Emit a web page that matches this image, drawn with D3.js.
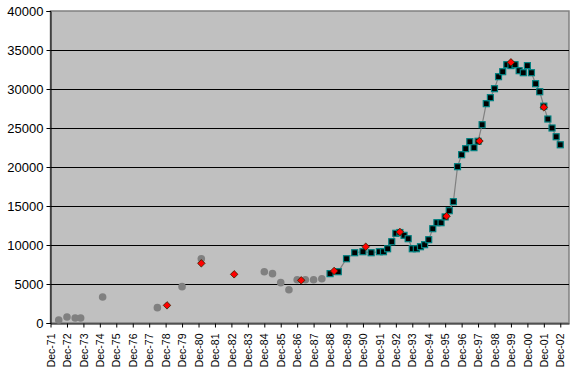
<!DOCTYPE html>
<html>
<head>
<meta charset="utf-8">
<script src="https://cdn.jsdelivr.net/npm/d3@7"></script>
<style>
  body { margin: 0; background: #fff; }
  text { font-family: "Liberation Sans", Arial, sans-serif; fill: #000; }
</style>
</head>
<body>
<div class="canvas"></div>
<script>
// early scattered readings (grey circles, no line)
const greyDates = ['1972-06', '1972-12', '1973-06', '1973-10', '1975-02', '1978-06', '1979-12', '1981-02',
  '1984-12', '1985-06', '1985-12', '1986-06', '1986-12', '1987-06', '1987-12', '1988-06']
const greyValues = [390, 770, 640, 640, 3330, 1970, 4660, 8240,
  6580, 6330, 5170, 4270, 5550, 5550, 5550, 5680]

// main series (black squares joined by a grey line)
const lineDates = ['1988-12', '1989-06', '1989-12', '1990-06', '1990-12', '1991-06', '1991-12',
  '1992-03', '1992-06', '1992-09', '1992-12', '1993-03', '1993-06', '1993-09', '1993-12',
  '1994-03', '1994-06', '1994-09', '1994-12', '1995-03', '1995-06', '1995-09', '1995-12',
  '1996-03', '1996-06', '1996-09', '1996-12', '1997-03', '1997-06', '1997-09', '1997-12',
  '1998-03', '1998-06', '1998-09', '1998-12', '1999-03', '1999-06', '1999-09', '1999-12',
  '2000-03', '2000-06', '2000-09', '2000-12', '2001-03', '2001-06', '2001-09', '2001-12',
  '2002-03', '2002-06', '2002-09', '2002-12']
const lineValues = [6330, 6580, 8240, 9010, 9140, 9010, 9140,
  9140, 9520, 10420, 11500, 11600, 11240, 10810, 9520,
  9520, 9780, 10040, 10680, 12090, 12860, 12860, 13600,
  14400, 15550, 20040, 21580, 22350, 23250, 22480, 23300,
  25420, 28120, 28890, 30040, 31580, 32220, 33120, 33000,
  33120, 32350, 32090, 33000, 32090, 30680, 29650, 27800,
  26150, 25000, 23880, 22850]

// red diamonds
const redDates = ['1979-01', '1981-02', '1983-02', '1987-03', '1989-03', '1991-02',
  '1993-03', '1996-01', '1998-01', '1999-12', '2001-12']
const redValues = [2260, 7650, 6240, 5470, 6670, 9780,
  11670, 13700, 23330, 33420, 27650]

const yTicks = [0, 5000, 10000, 15000, 20000, 25000, 30000, 35000, 40000]
const xTickYears = d3.range(1971, 2003)

const parse = d3.timeParse('%Y-%m')
const zip = (dates, values) => dates.map((d, i) => ({ date: parse(d), value: values[i] }))
const greyData = zip(greyDates, greyValues)
const lineData = zip(lineDates, lineValues)
const redData = zip(redDates, redValues)

const width = 578
const height = 373
const plot = { left: 50.5, right: 569, top: 11, bottom: 323 }

const svg = d3.select('.canvas')
  .append('svg')
  .attr('width', width)
  .attr('height', height)

const x = d3.scaleTime()
  .domain([new Date(1971, 11, 1), new Date(2003, 5, 13)])
  .range([plot.left, plot.right])

const y = d3.scaleLinear()
  .domain([0, 40000])
  .range([plot.bottom, plot.top])

//? plot area
svg.append('rect')
  .attr('x', plot.left)
  .attr('y', plot.top)
  .attr('width', plot.right - plot.left)
  .attr('height', plot.bottom - plot.top)
  .attr('fill', '#c0c0c0')
  .attr('stroke', '#808080')
  .attr('stroke-width', 1.5)

//? gridlines
svg.append('g')
  .selectAll('line')
  .data(yTicks.filter(v => v > 0 && v < 40000))
  .join('line')
  .attr('x1', plot.left)
  .attr('x2', plot.right)
  .attr('y1', d => Math.round(y(d)) + 0.5)
  .attr('y2', d => Math.round(y(d)) + 0.5)
  .attr('stroke', '#000')

//? axes
const yAxis = svg.append('g')
  .attr('transform', `translate(${plot.left}, 0)`)
  .call(d3.axisLeft(y).tickValues(yTicks).tickSize(4).tickPadding(3).tickFormat(d3.format('d')))
yAxis.select('.domain').attr('stroke', '#000')
yAxis.selectAll('text').attr('font-size', 13)

const xAxis = svg.append('g')
  .attr('transform', `translate(0, ${plot.bottom + 0.5})`)
  .call(d3.axisBottom(x)
    .tickValues(xTickYears.map(yr => new Date(yr, 11, 1)))
    .tickSize(4)
    .tickSizeOuter(0)
    .tickFormat(d3.timeFormat('%b-%y')))
xAxis.selectAll('text')
  .attr('font-size', 10.5)
  .attr('text-anchor', 'end')
  .attr('transform', 'rotate(-90)')
  .attr('x', -10)
  .attr('y', 0)
  .attr('dy', '0.35em')

//? grey circles
svg.append('g')
  .selectAll('circle')
  .data(greyData)
  .join('circle')
  .attr('cx', d => x(d.date))
  .attr('cy', d => y(d.value))
  .attr('r', 3.8)
  .attr('fill', '#808080')

//? main line + squares
const line = d3.line()
  .x(d => x(d.date))
  .y(d => y(d.value))

svg.append('path')
  .datum(lineData)
  .attr('d', line)
  .attr('fill', 'none')
  .attr('stroke', '#808080')
  .attr('stroke-width', 1.2)

svg.append('g')
  .selectAll('rect')
  .data(lineData)
  .join('rect')
  .attr('x', d => x(d.date) - 3)
  .attr('y', d => y(d.value) - 3)
  .attr('width', 6)
  .attr('height', 6)
  .attr('fill', '#000')
  .attr('stroke', '#008080')
  .attr('stroke-width', 1.2)

//? red diamonds (square turned 45deg, like the Excel marker)
const diamond = d3.symbol().type(d3.symbolSquare).size(28)
svg.append('g')
  .selectAll('path')
  .data(redData)
  .join('path')
  .attr('transform', d => `translate(${x(d.date)}, ${y(d.value)}) rotate(45)`)
  .attr('d', diamond)
  .attr('fill', '#ff0000')
  .attr('stroke', '#402000')
  .attr('stroke-width', 0.8)
</script>
</body>
</html>
